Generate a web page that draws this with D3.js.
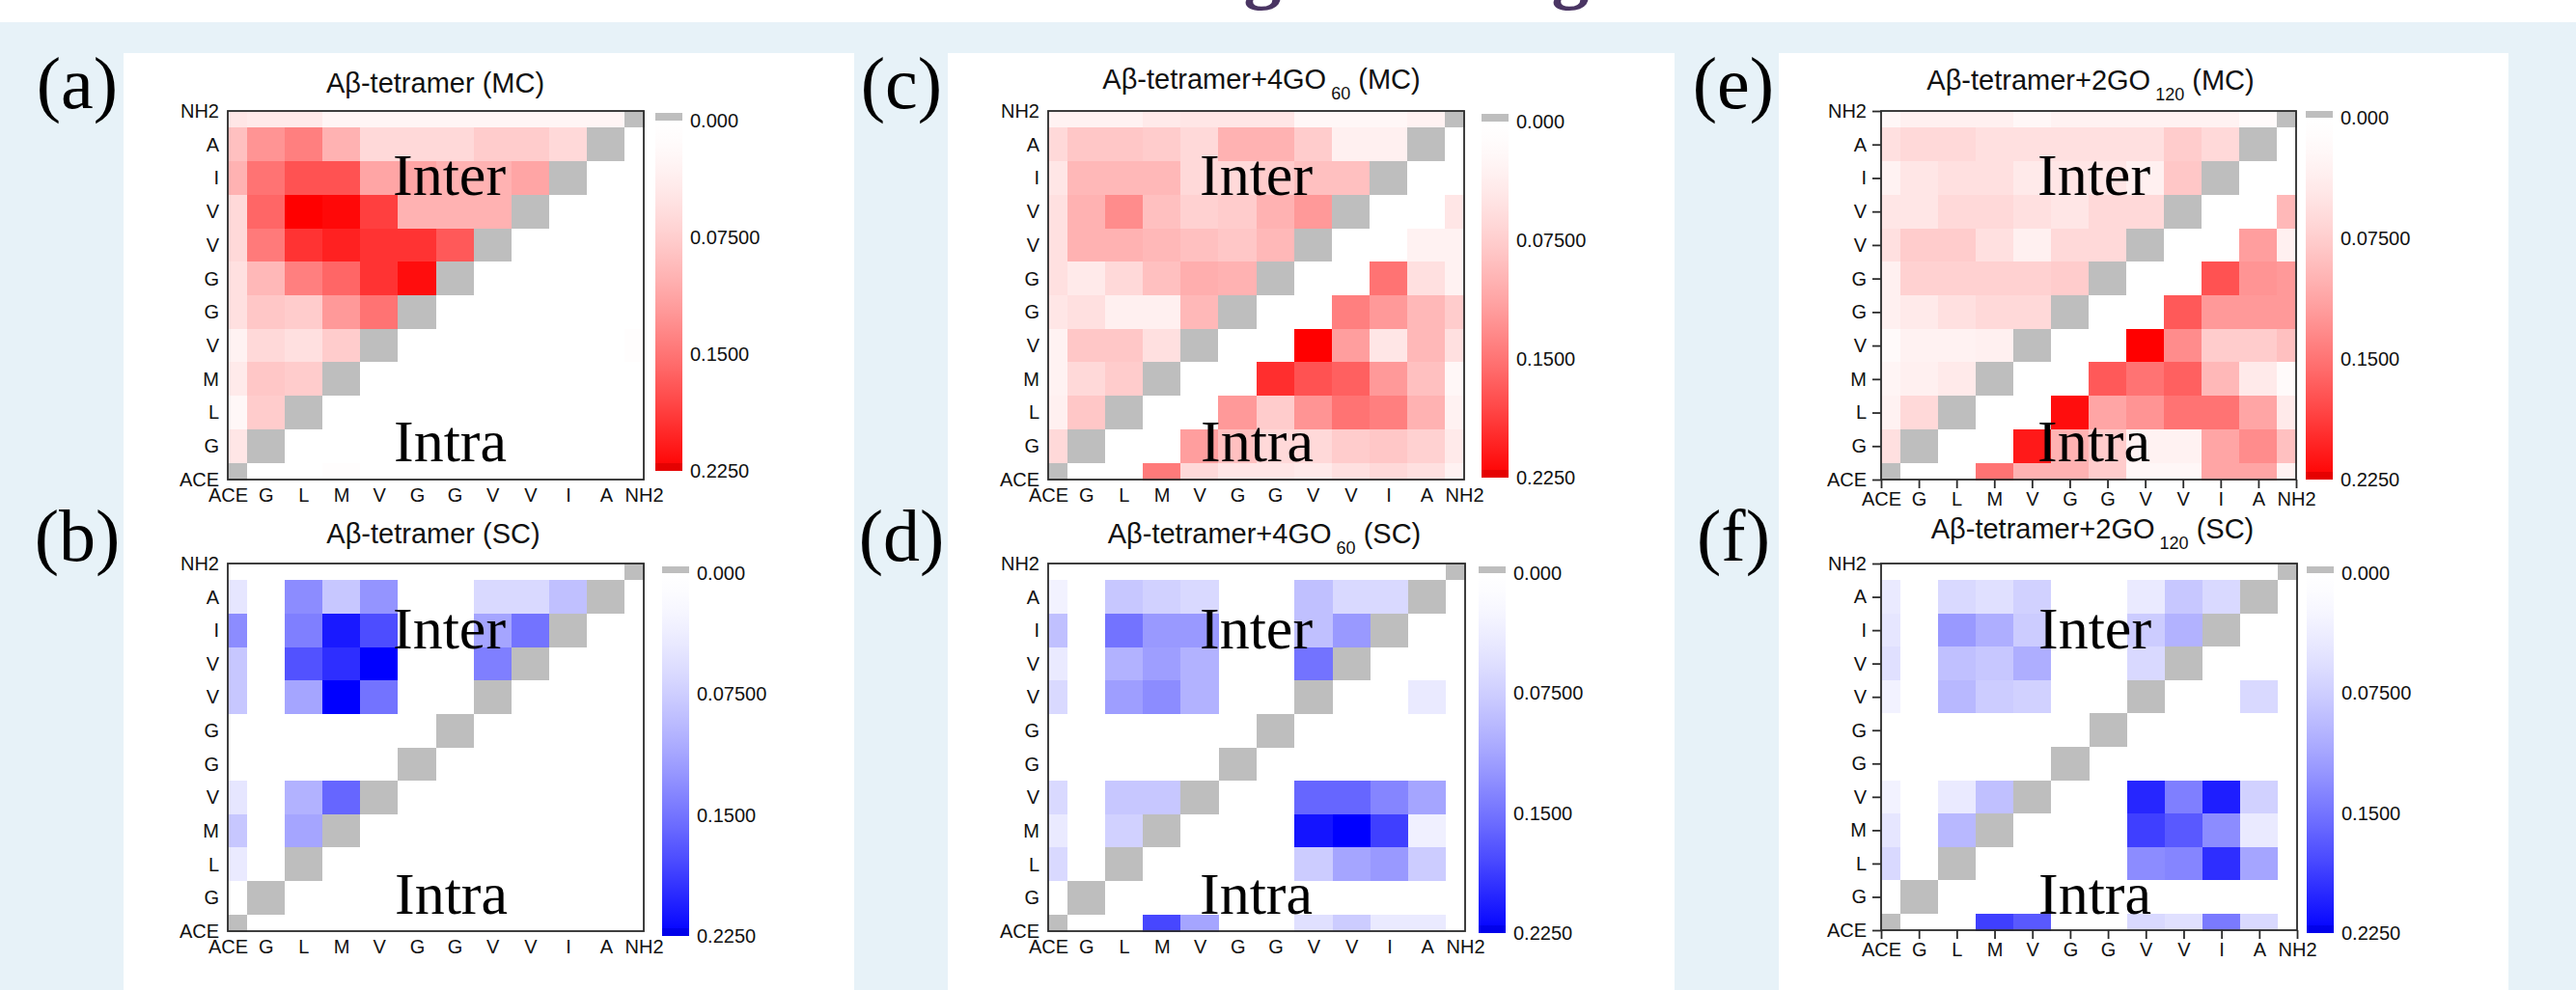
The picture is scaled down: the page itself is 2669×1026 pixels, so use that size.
<!DOCTYPE html>
<html>
<head>
<meta charset="utf-8">
<script src="https://cdn.jsdelivr.net/npm/d3@7"></script>
<style>
  body { margin: 0; background: #fff; }
  svg { display: block; }
  text { font-family: "Liberation Sans", Arial, sans-serif; }
</style>
</head>
<body>
<div id="chart"></div>
<script>
// residue sequence used for both axes (x left->right, y bottom->top)
const residues = ["ACE", "G", "L", "M", "V", "G", "G", "V", "V", "I", "A", "NH2"];

// contact maps: rows listed from top (NH2) to bottom (ACE), columns ACE..NH2
// null marks the diagonal (drawn grey)
const mcTetramer = [
  [0.048,0.042,0.042,0.026,0.026,0.026,0.026,0.026,0.026,0.026,0.026,null],
  [0.089,0.126,0.142,0.101,0.063,0.063,0.063,0.077,0.077,0.063,null,0],
  [0.101,0.151,0.174,0.174,0.112,0.112,0.101,0.101,0.112,null,0,0],
  [0.063,0.160,0.225,0.220,0.186,0.101,0.101,0.101,null,0,0,0],
  [0.063,0.146,0.194,0.205,0.194,0.194,0.169,null,0,0,0,0],
  [0.055,0.096,0.142,0.160,0.194,0.217,null,0,0,0,0,0],
  [0.055,0.082,0.077,0.122,0.151,null,0,0,0,0,0,0],
  [0.031,0.063,0.055,0.077,null,0,0,0,0,0,0,0.010],
  [0.042,0.082,0.077,null,0,0,0,0,0,0,0,0],
  [0.022,0.077,null,0,0,0,0,0,0,0,0,0],
  [0.048,null,0,0,0,0,0,0,0,0,0,0],
  [null,0,0,0.010,0,0,0,0,0,0,0,0]
];

const scTetramer = [
  [0,0,0,0,0,0,0,0,0,0,0,null],
  [0.048,0,0.132,0.082,0.126,0,0,0.063,0.063,0.089,null,0],
  [0.132,0,0.142,0.210,0.177,0,0,0.112,0.151,null,0,0],
  [0.082,0,0.174,0.197,0.225,0,0,0.142,null,0,0,0],
  [0.082,0,0.112,0.225,0.151,0,0,null,0,0,0,0],
  [0,0,0,0,0,0,null,0,0,0,0,0],
  [0,0,0,0,0,null,0,0,0,0,0,0],
  [0.048,0,0.101,0.160,null,0,0,0,0,0,0,0],
  [0.082,0,0.112,null,0,0,0,0,0,0,0,0],
  [0.042,0,null,0,0,0,0,0,0,0,0,0],
  [0,null,0,0,0,0,0,0,0,0,0,0],
  [null,0,0,0,0,0,0,0,0,0,0,0]
];

const mcGO60 = [
  [0.031,0.031,0.031,0.042,0.048,0.048,0.048,0.022,0.022,0.022,0.031,null],
  [0.063,0.082,0.082,0.077,0.063,0.101,0.101,0.077,0.034,0.034,null,0],
  [0.048,0.096,0.096,0.096,0.063,0.063,0.077,0.089,0.089,null,0,0],
  [0.055,0.101,0.132,0.089,0.072,0.077,0.101,0.122,null,0,0,0.048],
  [0.055,0.101,0.101,0.096,0.089,0.082,0.096,null,0,0,0.031,0.031],
  [0.055,0.042,0.063,0.089,0.105,0.101,null,0,0,0.151,0.055,0.031],
  [0.048,0.055,0.034,0.034,0.096,null,0,0,0.142,0.122,0.096,0.077],
  [0.031,0.082,0.082,0.055,null,0,0,0.225,0.118,0.048,0.096,0.055],
  [0.031,0.063,0.077,null,0,0,0.197,0.174,0.164,0.122,0.089,0.022],
  [0.034,0.082,null,0,0,0.122,0.077,0.126,0.151,0.142,0.101,0.031],
  [0.063,null,0,0,0.118,0.089,0.063,0.063,0.077,0.082,0.072,0.042],
  [null,0,0,0.146,0.063,0.048,0.048,0.042,0.055,0.063,0.055,0.031]
];

const scGO60 = [
  [0,0,0,0,0,0,0,0,0,0,0,null],
  [0.031,0,0.082,0.072,0.063,0,0,0.089,0.063,0.063,null,0],
  [0.089,0,0.151,0.122,0.122,0,0,0.089,0.122,null,0,0],
  [0.042,0,0.101,0.118,0.101,0,0,0.151,null,0,0,0],
  [0.063,0,0.118,0.132,0.101,0,0,null,0,0,0.042,0],
  [0,0,0,0,0,0,null,0,0,0,0,0],
  [0,0,0,0,0,null,0,0,0,0,0,0],
  [0.063,0,0.082,0.082,null,0,0,0.160,0.160,0.138,0.112,0],
  [0.042,0,0.072,null,0,0,0,0.213,0.225,0.186,0.034,0],
  [0.063,0,null,0,0,0,0,0.077,0.112,0.122,0.077,0],
  [0,null,0,0,0,0,0,0,0,0,0,0],
  [null,0,0,0.181,0.112,0,0,0.055,0.077,0.042,0.042,0]
];

const mcGO120 = [
  [0.022,0.034,0.034,0.034,0.022,0.031,0.031,0.031,0.031,0.031,0.017,null],
  [0.055,0.063,0.063,0.055,0.055,0.055,0.055,0.055,0.077,0.063,null,0],
  [0.031,0.048,0.055,0.055,0.042,0.048,0.048,0.034,0.082,null,0,0],
  [0.048,0.048,0.063,0.063,0.055,0.048,0.063,0.063,null,0,0,0.096],
  [0.055,0.077,0.077,0.055,0.034,0.063,0.063,null,0,0,0.118,0.034],
  [0.034,0.072,0.072,0.072,0.072,0.077,null,0,0,0.174,0.126,0.122],
  [0.034,0.042,0.055,0.063,0.063,null,0,0,0.169,0.122,0.122,0.122],
  [0.017,0.031,0.031,0.034,null,0,0,0.225,0.132,0.077,0.077,0.089],
  [0.026,0.034,0.042,null,0,0,0.169,0.151,0.164,0.096,0.042,0.017],
  [0.031,0.063,null,0,0,0.217,0.112,0.126,0.151,0.151,0.112,0.042],
  [0.055,null,0,0,0.210,0.101,0.077,0.031,0.031,0.112,0.132,0.089],
  [null,0,0,0.151,0.101,0.101,0.077,0.022,0.022,0.112,0.112,0.031]
];

const scGO120 = [
  [0,0,0,0,0,0,0,0,0,0,0,null],
  [0.042,0,0.063,0.055,0.072,0,0,0.042,0.082,0.063,null,0],
  [0.048,0,0.122,0.105,0.077,0,0,0.077,0.101,null,0,0],
  [0.055,0,0.089,0.082,0.105,0,0,0.063,null,0,0,0],
  [0.031,0,0.096,0.077,0.072,0,0,null,0,0,0.063,0],
  [0,0,0,0,0,0,null,0,0,0,0,0],
  [0,0,0,0,0,null,0,0,0,0,0,0],
  [0.031,0,0.042,0.089,null,0,0,0.202,0.142,0.207,0.072,0],
  [0.048,0,0.096,null,0,0,0,0.186,0.169,0.132,0.042,0],
  [0.063,0,null,0,0,0,0,0.132,0.138,0.197,0.112,0],
  [0,null,0,0,0,0,0,0,0,0,0,0],
  [null,0,0,0.186,0.169,0,0,0.063,0.055,0.146,0.063,0]
];

const cbTicks  = [0, 0.075, 0.15, 0.225];
const cbLabels = ["0.000", "0.07500", "0.1500", "0.2250"];
const vmax = 0.225;

const W = 2669, H = 1026;

// layout of the six panels (pixel boxes)
const panels = [
  {tag: "(a)", data: mcTetramer, kind: "MC", name: "Aβ-tetramer", sub: null, mode: "(MC)",
   box: [236, 667, 115, 497], ticks: false, titleX: 451, titleY: 96,
   cb: [679, 117, 125, 488], inter: [407, 202], intra: [408, 478], label: [80, 112]},
  {tag: "(b)", data: scTetramer, kind: "SC", name: "Aβ-tetramer", sub: null, mode: "(SC)",
   box: [236, 667, 584, 965], ticks: false, titleX: 449, titleY: 563,
   cb: [686, 587, 594, 970], inter: [407, 672], intra: [409, 947], label: [80, 581]},
  {tag: "(c)", data: mcGO60, kind: "MC", name: "Aβ-tetramer+4GO", sub: "60", mode: "(MC)",
   box: [1086, 1517, 115, 497], ticks: false, titleX: 1307, titleY: 92,
   cb: [1535, 118, 126, 495], inter: [1243, 202], intra: [1244, 478], label: [934, 112]},
  {tag: "(d)", data: scGO60, kind: "SC", name: "Aβ-tetramer+4GO", sub: "60", mode: "(SC)",
   box: [1086, 1518, 584, 965], ticks: false, titleX: 1310, titleY: 563,
   cb: [1532, 587, 594, 967], inter: [1243, 672], intra: [1243, 947], label: [934, 581]},
  {tag: "(e)", data: mcGO120, kind: "MC", name: "Aβ-tetramer+2GO", sub: "120", mode: "(MC)",
   box: [1949, 2379, 115, 497], ticks: true, titleX: 2166, titleY: 93,
   cb: [2389, 115, 122, 497], inter: [2111, 202], intra: [2111, 478], label: [1796, 112]},
  {tag: "(f)", data: scGO120, kind: "SC", name: "Aβ-tetramer+2GO", sub: "120", mode: "(SC)",
   box: [1949, 2380, 584, 964], ticks: true, titleX: 2168, titleY: 558,
   cb: [2390, 587, 594, 967], inter: [2112, 672], intra: [2112, 947], label: [1796, 581]}
];

const colorFor = {
  MC: d3.scalePow().exponent(1.5).domain([0, vmax]).range(["#ffffff", "#ff0000"]).clamp(true),
  SC: d3.scalePow().exponent(1.5).domain([0, vmax]).range(["#ffffff", "#0000ff"]).clamp(true)
};
const overColor = {MC: "#d40000", SC: "#0000dc"};
const diagGrey = "#bebebe";

const svg = d3.select("#chart").append("svg")
  .attr("width", W)
  .attr("height", H)
  .attr("viewBox", `0 0 ${W} ${H}`);

const defs = svg.append("defs");

// page background
svg.append("rect").attr("width", W).attr("height", H).attr("fill", "#fff");
svg.append("rect").attr("y", 23).attr("width", W).attr("height", H - 23).attr("fill", "#e7f2f8");
[[128, 885], [982, 1735], [1843, 2599]].forEach(([x0, x1]) => {
  svg.append("rect").attr("x", x0).attr("y", 55).attr("width", x1 - x0).attr("height", H - 55).attr("fill", "#fff");
});

// descenders of the cropped page heading
[1308, 1627].forEach(x => {
  svg.append("text")
    .attr("x", x).attr("y", -6)
    .attr("text-anchor", "middle")
    .style("font-family", "'Liberation Serif', 'Times New Roman', serif")
    .style("font-weight", "bold")
    .style("font-size", "78px")
    .attr("fill", "#4a3563")
    .text("g");
});

panels.forEach((p, k) => drawPanel(p, k));

function drawPanel(p, k) {
  const [x0, x1, y0, y1] = p.box;
  const color = colorFor[p.kind];
  const g = svg.append("g");

  const x = d3.scaleLinear().domain([0, residues.length - 1]).range([x0, x1]);
  const y = d3.scaleLinear().domain([0, residues.length - 1]).range([y1, y0]);
  const n = residues.length - 1;

  const cells = [];
  p.data.forEach((row, r) => {
    row.forEach((v, c) => cells.push({yi: n - r, xi: c, v}));
  });

  g.append("g")
    .selectAll("rect")
    .data(cells)
    .enter()
    .append("rect")
    .attr("x", d => x(Math.max(0, d.xi - 0.5)))
    .attr("width", d => x(Math.min(n, d.xi + 0.5)) - x(Math.max(0, d.xi - 0.5)) + 0.5)
    .attr("y", d => y(Math.min(n, d.yi + 0.5)))
    .attr("height", d => y(Math.max(0, d.yi - 0.5)) - y(Math.min(n, d.yi + 0.5)) + 0.5)
    .attr("fill", d => d.v === null ? diagGrey : color(d.v))
    .attr("shape-rendering", "crispEdges");

  // frame
  g.append("rect")
    .attr("x", x0).attr("y", y0)
    .attr("width", x1 - x0).attr("height", y1 - y0)
    .attr("fill", "none")
    .attr("stroke", "#2b2b2b")
    .attr("stroke-width", 1.8);

  const tickLen = p.ticks ? 9 : 0;
  const idx = d3.range(residues.length);

  const yAxis = g.append("g")
    .attr("transform", `translate(${x0},0)`)
    .call(d3.axisLeft(y).tickValues(idx).tickFormat(i => residues[i])
      .tickSize(tickLen).tickPadding(p.ticks ? 6 : 9));
  const xAxis = g.append("g")
    .attr("transform", `translate(0,${y1})`)
    .call(d3.axisBottom(x).tickValues(idx).tickFormat(i => residues[i])
      .tickSize(tickLen).tickPadding(p.ticks ? 4 : 9));

  [yAxis, xAxis].forEach(ax => {
    ax.attr("color", "#111");
    ax.select(".domain").remove();
    ax.selectAll("text").style("font-size", "20px")
      .style("font-family", "'Liberation Sans', Arial, sans-serif");
    ax.selectAll("line").attr("stroke", "#2b2b2b").attr("stroke-width", 1.8);
  });

  // title with optional subscript
  const t = g.append("text")
    .attr("x", p.titleX).attr("y", p.titleY)
    .attr("text-anchor", "middle")
    .style("font-size", "29px")
    .style("white-space", "pre")
    .attr("fill", "#111");
  t.append("tspan").text(p.name);
  if (p.sub) {
    t.append("tspan").attr("dy", 11).style("font-size", "18px").text(" " + p.sub);
    t.append("tspan").attr("dy", -11).text(" " + p.mode);
  } else {
    t.append("tspan").text(" " + p.mode);
  }

  // Inter / Intra labels
  const serif = "'Liberation Serif', 'Times New Roman', serif";
  g.append("text").attr("x", p.inter[0]).attr("y", p.inter[1])
    .style("font-family", serif).style("font-size", "62px").attr("fill", "#000").text("Inter");
  g.append("text").attr("x", p.intra[0]).attr("y", p.intra[1])
    .style("font-family", serif).style("font-size", "62px").attr("fill", "#000").text("Intra");

  // panel letter
  svg.append("text").attr("x", p.label[0]).attr("y", p.label[1])
    .attr("text-anchor", "middle")
    .style("font-family", serif).style("font-size", "76px").attr("fill", "#000")
    .text(p.tag);

  // colour bar
  const [cx, greyTop, gTop, gBot] = p.cb;
  const cw = 28;
  const gradId = "grad" + k;
  const grad = defs.append("linearGradient").attr("id", gradId)
    .attr("x1", 0).attr("y1", 0).attr("x2", 0).attr("y2", 1);
  d3.range(0, 1.0001, 0.05).forEach(f => {
    grad.append("stop").attr("offset", f).attr("stop-color", color(f * vmax));
  });
  g.append("rect").attr("x", cx).attr("y", greyTop).attr("width", cw).attr("height", gTop - greyTop)
    .attr("fill", diagGrey);
  g.append("rect").attr("x", cx).attr("y", gTop).attr("width", cw).attr("height", gBot - gTop)
    .attr("fill", `url(#${gradId})`);
  g.append("rect").attr("x", cx).attr("y", gBot - 8).attr("width", cw).attr("height", 8)
    .attr("fill", overColor[p.kind]).attr("opacity", 0.6);

  const cbScale = d3.scaleLinear().domain([0, vmax]).range([gTop, gBot]);
  g.append("g")
    .selectAll("text")
    .data(cbTicks)
    .enter()
    .append("text")
    .attr("x", cx + cw + 8)
    .attr("y", d => cbScale(d))
    .attr("dy", "0.35em")
    .style("font-size", "20px")
    .attr("fill", "#111")
    .text((d, i) => cbLabels[i]);
}
</script>
</body>
</html>
